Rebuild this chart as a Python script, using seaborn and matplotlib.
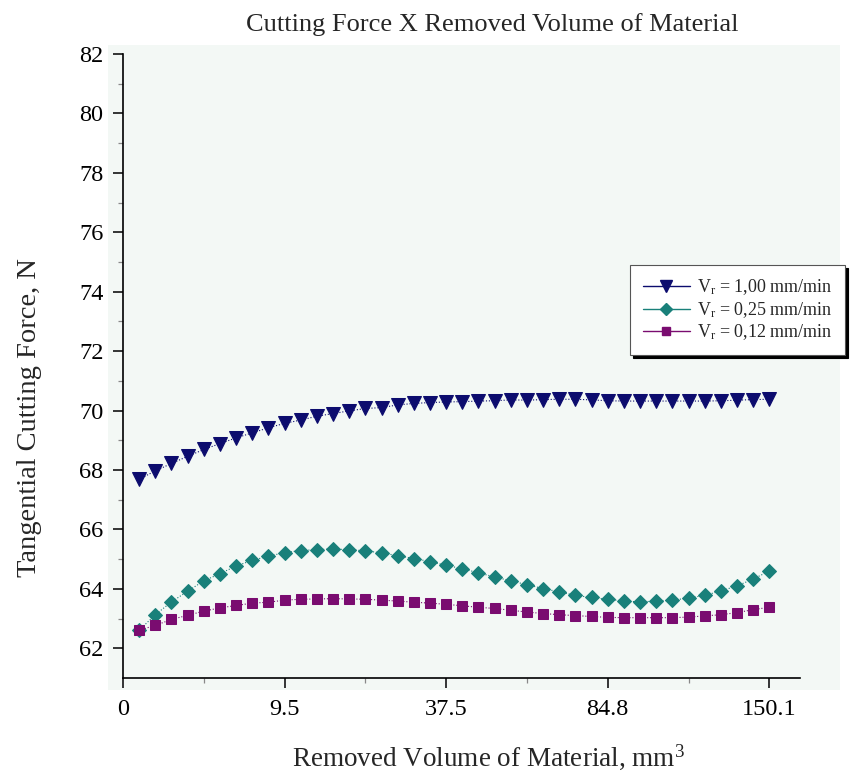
import numpy as np
import pandas as pd
import matplotlib
matplotlib.use("Agg")
import matplotlib.pyplot as plt
from matplotlib.lines import Line2D
from matplotlib.patches import Rectangle
import seaborn as sns

# ---------------- data ----------------
series_names = [r"V$_\mathrm{r}$ = 1,00 mm/min", r"V$_\mathrm{r}$ = 0,25 mm/min",
                r"V$_\mathrm{r}$ = 0,12 mm/min"]

force_100 = [67.69, 67.97, 68.22, 68.46, 68.69, 68.89, 69.08, 69.25, 69.42, 69.57,
             69.68, 69.81, 69.90, 69.99, 70.07, 70.10, 70.19, 70.24, 70.27, 70.29,
             70.30, 70.32, 70.33, 70.36, 70.35, 70.37, 70.38, 70.38, 70.36, 70.33,
             70.32, 70.32, 70.32, 70.32, 70.32, 70.32, 70.33, 70.35, 70.37, 70.38]

force_025 = [62.61, 63.13, 63.56, 63.92, 64.27, 64.51, 64.77, 64.96, 65.10, 65.22,
             65.29, 65.32, 65.34, 65.32, 65.28, 65.21, 65.12, 65.02, 64.92, 64.79,
             64.68, 64.54, 64.40, 64.27, 64.14, 64.01, 63.90, 63.78, 63.71, 63.65,
             63.59, 63.56, 63.59, 63.62, 63.69, 63.78, 63.93, 64.10, 64.33, 64.60]

force_012 = [62.61, 62.77, 62.97, 63.11, 63.25, 63.36, 63.44, 63.52, 63.55, 63.62,
             63.65, 63.66, 63.67, 63.66, 63.65, 63.62, 63.59, 63.55, 63.52, 63.48,
             63.43, 63.38, 63.34, 63.28, 63.22, 63.17, 63.13, 63.10, 63.07, 63.04,
             63.03, 63.03, 63.03, 63.03, 63.05, 63.09, 63.13, 63.20, 63.30, 63.38]

x_tick_labels = ["0", "9.5", "37.5", "84.8", "150.1"]
y_tick_values = [62, 64, 66, 68, 70, 72, 74, 76, 78, 80, 82]

sample = np.arange(1, len(force_100) + 1)
df = pd.DataFrame({
    "sample": np.concatenate([sample, sample, sample]),
    "force": force_100 + force_025 + force_012,
    "series": [series_names[0]] * 40 + [series_names[1]] * 40 + [series_names[2]] * 40,
})

colors = ["#0c0c6e", "#19807a", "#7a0c70"]
markers = ["v", "D", "s"]
msizes = [10, 7.5, 7.5]

# ---------------- figure ----------------
sns.set_theme(style="ticks")
plt.rcParams["font.family"] = ["Liberation Serif", "DejaVu Serif"]
plt.rcParams["mathtext.fontset"] = "custom"
plt.rcParams["mathtext.rm"] = "Liberation Serif"
plt.rcParams["mathtext.it"] = "Liberation Serif:italic"

W, H = 852, 775
fig = plt.figure(figsize=(W / 100, H / 100), dpi=100)
fig.patch.set_facecolor("white")

# mint plot background extending beyond axes
fig.patches.append(Rectangle((108 / W, 1 - 690 / H), (840 - 108) / W, (690 - 45) / H,
                             transform=fig.transFigure, facecolor="#f3f8f5",
                             edgecolor="none", zorder=-10))

ax = fig.add_axes([123 / W, 1 - 678 / H, (800 - 123) / W, (678 - 54) / H])
ax.set_facecolor("#f3f8f5")
ax.set_zorder(1)

for name, c, m, ms in zip(series_names, colors, markers, msizes):
    sub = df[df["series"] == name]
    sns.lineplot(data=sub, x="sample", y="force", ax=ax, color=c, marker=m,
                 markersize=ms, markeredgecolor=c, linestyle=":", linewidth=0.8,
                 legend=False)

ax.set_xlim(0, 41.9)
ax.set_ylim(61, 82)
ax.set_xticks([0, 10, 20, 30, 40])
ax.set_xticklabels(x_tick_labels)
ax.set_xticks([5, 15, 25, 35], minor=True)
ax.set_yticks(y_tick_values)
ax.set_yticks(np.arange(63, 82, 2), minor=True)
ax.tick_params(axis="both", which="major", direction="out", length=7, width=1.1,
               labelsize=17.5, colors="black", pad=7)
ax.tick_params(axis="both", which="minor", direction="out", length=3.5, width=0.9,
               colors="#888888")
ax.tick_params(axis="x", which="major", pad=8)
ax.set_xlabel("")
ax.set_ylabel("")
for s in ["top", "right"]:
    ax.spines[s].set_visible(False)
for s in ["left", "bottom"]:
    ax.spines[s].set_linewidth(1.2)
    ax.spines[s].set_color("black")

fig.text(492 / W, 1 - 25 / H, "Cutting Force X Removed Volume of Material",
         ha="center", va="center", fontsize=19)
fig.text(488 / W, 1 - 757 / H, "Removed Volume of Material, mm$^3$",
         ha="center", va="center", fontsize=19.5)
fig.text(30 / W, 1 - 418 / H, "Tangential Cutting Force, N",
         ha="center", va="center", rotation=90, fontsize=20.5)

handles = [Line2D([0], [0], color=c, marker=m, markersize=ms * 0.85, linewidth=1.0,
                  markeredgecolor=c) for c, m, ms in zip(colors, markers, msizes)]
leg = ax.legend(handles, series_names, loc="upper left",
                bbox_to_anchor=(630 / W, 1 - 265 / H), bbox_transform=fig.transFigure,
                fontsize=13, frameon=True, fancybox=False, edgecolor="#555555",
                framealpha=1, handlelength=2.6, handletextpad=0.4, borderpad=0.7,
                labelspacing=0.15, borderaxespad=0,
                shadow={"color": "black", "alpha": 1.0})
leg.get_frame().set_linewidth(0.8)

fig.savefig("out.png", dpi=100)
